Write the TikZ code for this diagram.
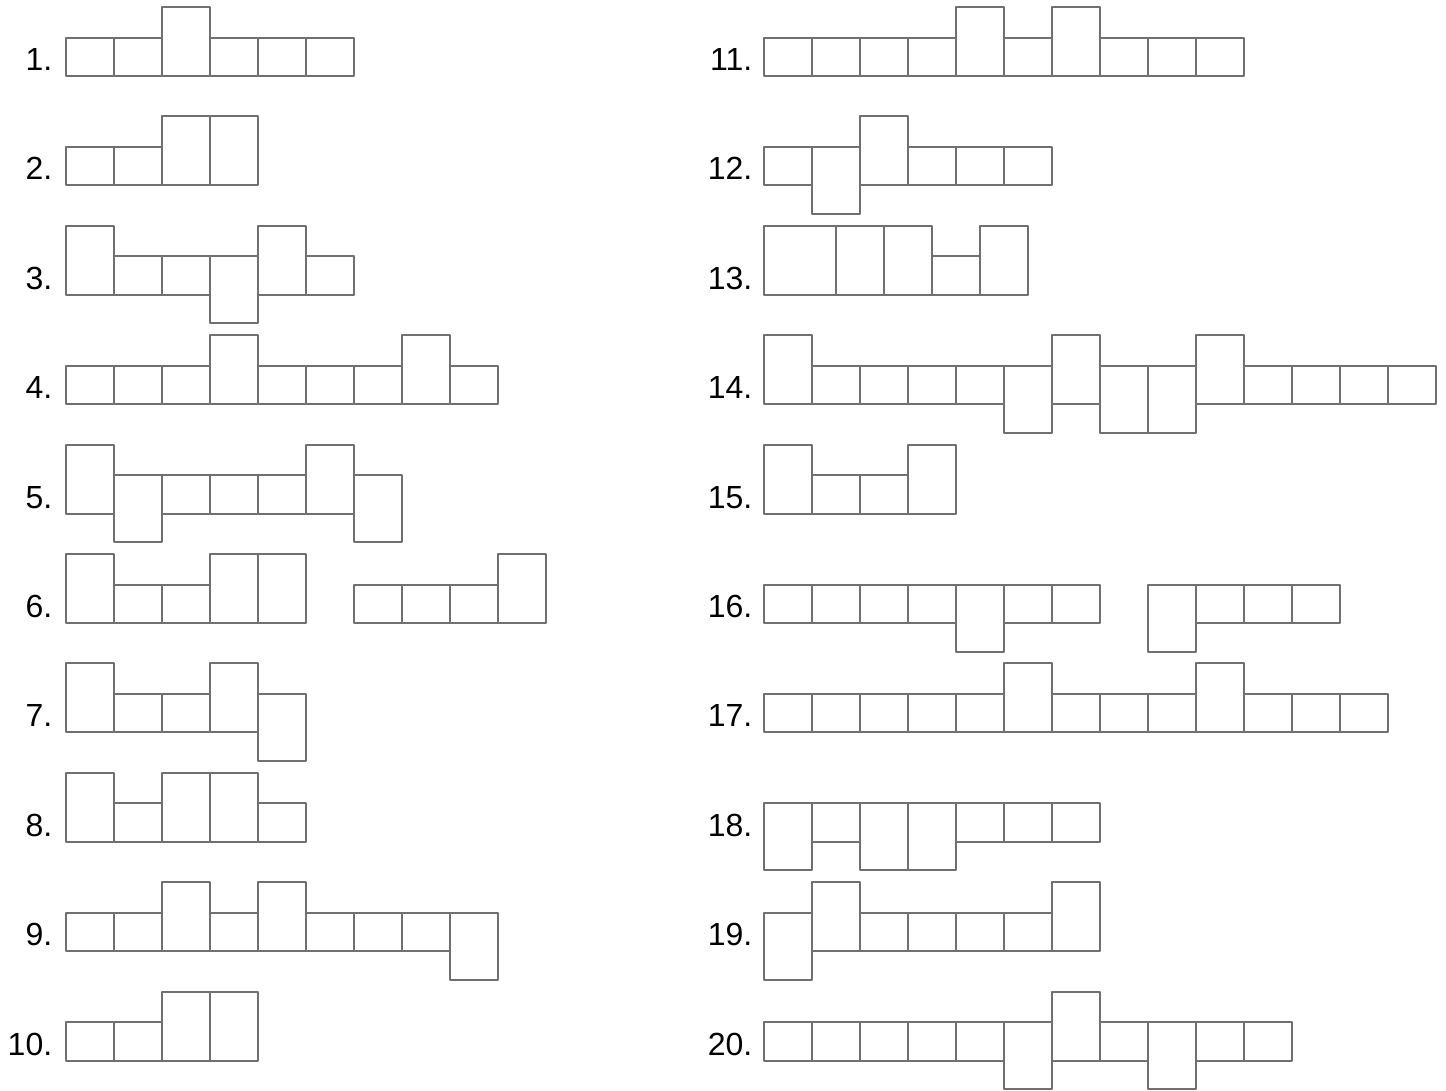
\documentclass[tikz,border=0pt]{standalone}
\usepackage{fontspec}
\setmainfont{Liberation Sans}
\usepackage{tikz}
\definecolor{cellgray}{RGB}{112,112,112}
% cell kinds: S short, U tall upwards, D tall downwards, W wide tall, G gap
\newcommand{\cellS}[2]{\draw[cell] (#1,#2-38.5) rectangle ++(48,38.5);}
\newcommand{\cellU}[2]{\draw[cell] (#1,#2-69) rectangle ++(48,69);}
\newcommand{\cellD}[2]{\draw[cell] (#1,#2-38.5) rectangle ++(48,67);}
\newcommand{\cellW}[2]{\draw[cell] (#1-24,#2-69) rectangle ++(72,69);}
\newcommand{\cellG}[2]{}
\newcommand{\cellrow}[5]{% label x, first cell x, row, label, kinds
  \pgfmathsetmacro{\rowb}{76+(#3-1)*109.4}
  \node[rowlabel] (lab#4) at (#1,\rowb-5.5) {#4.};
  \foreach \t [count=\i] in {#5} {
    \pgfmathsetmacro{\cx}{#2+(\i-1)*48}
    \csname cell\t\endcsname{\cx}{\rowb}
  }
}

\begin{document}
\begin{tikzpicture}[
  x=0.75pt, y=-0.75pt,
  cell/.style={draw=cellgray, line width=1.5pt, line join=round},
  rowlabel/.style={anchor=base east, inner sep=0pt,
                   font=\fontsize{24}{28}\selectfont}
]
\useasboundingbox (0,0) rectangle (1446,1090);

% left column
\cellrow{52.5}{65.5}{1}{1}{S,S,U,S,S,S}
\cellrow{52.5}{65.5}{2}{2}{S,S,U,U}
\cellrow{52.5}{65.5}{3}{3}{U,S,S,D,U,S}
\cellrow{52.5}{65.5}{4}{4}{S,S,S,U,S,S,S,U,S}
\cellrow{52.5}{65.5}{5}{5}{U,D,S,S,S,U,D}
\cellrow{52.5}{65.5}{6}{6}{U,S,S,U,U,G,S,S,S,U}
\cellrow{52.5}{65.5}{7}{7}{U,S,S,U,D}
\cellrow{52.5}{65.5}{8}{8}{U,S,U,U,S}
\cellrow{52.5}{65.5}{9}{9}{S,S,U,S,U,S,S,S,D}
\cellrow{52.5}{65.5}{10}{10}{S,S,U,U}

% right column
\cellrow{752.5}{764}{1}{11}{S,S,S,S,U,S,U,S,S,S}
\cellrow{752.5}{764}{2}{12}{S,D,U,S,S,S}
\cellrow{752.5}{788}{3}{13}{W,U,U,S,U}
\cellrow{752.5}{764}{4}{14}{U,S,S,S,S,D,U,D,D,U,S,S,S,S}
\cellrow{752.5}{764}{5}{15}{U,S,S,U}
\cellrow{752.5}{764}{6}{16}{S,S,S,S,D,S,S,G,D,S,S,S}
\cellrow{752.5}{764}{7}{17}{S,S,S,S,S,U,S,S,S,U,S,S,S}
\cellrow{752.5}{764}{8}{18}{D,S,D,D,S,S,S}
\cellrow{752.5}{764}{9}{19}{D,U,S,S,S,S,U}
\cellrow{752.5}{764}{10}{20}{S,S,S,S,S,D,U,S,D,S,S}
\end{tikzpicture}
\end{document}
